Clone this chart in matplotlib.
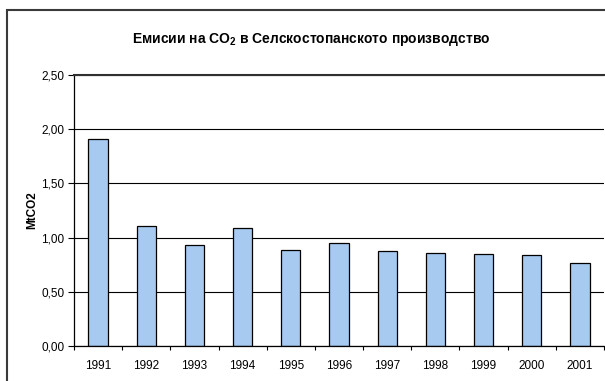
import numpy as np
import matplotlib.pyplot as plt
from matplotlib.patches import Rectangle

plt.rcParams['font.family'] = ['Liberation Sans', 'DejaVu Sans']
plt.rcParams['mathtext.fontset'] = 'custom'
plt.rcParams['mathtext.bf'] = 'Liberation Sans:bold'
plt.rcParams['mathtext.rm'] = 'Liberation Sans'

# CO2 emissions from agriculture, MtCO2
years = ['1991', '1992', '1993', '1994', '1995', '1996', '1997', '1998', '1999', '2000', '2001']
emissions = [1.91, 1.11, 0.93, 1.09, 0.89, 0.95, 0.88, 0.86, 0.85, 0.84, 0.77]
y_ticks = [0.0, 0.5, 1.0, 1.5, 2.0, 2.5]
y_labels = ['0,00', '0,50', '1,00', '1,50', '2,00', '2,50']

fig = plt.figure(figsize=(6.05, 3.81), dpi=100)

# outer chart frame
fig.patches.append(Rectangle((7 / 605, -0.2), 1.2, 1.2 - 10 / 381,
                             transform=fig.transFigure, fill=False,
                             edgecolor='#3a3a3a', linewidth=1.5))

ax = fig.add_axes([74 / 605, 1 - 346 / 381, 530 / 605, 271 / 381])
x = np.arange(len(years))

ax.set_axisbelow(True)
ax.yaxis.grid(True, color='black', linewidth=0.8)
ax.bar(x, emissions, width=0.4, color='#A6CAF0', edgecolor='black', linewidth=0.9)

ax.set_xlim(-0.5, len(years) - 0.5)
ax.set_ylim(0, 2.5)
ax.set_yticks(y_ticks)
ax.set_yticklabels(y_labels, fontsize=8.5)
ax.set_xticks(x)
ax.set_xticklabels(years, fontsize=8.5)
ax.set_xticks(np.arange(len(years) + 1) - 0.5, minor=True)
ax.tick_params(axis='x', which='major', length=0, pad=10)
ax.tick_params(axis='x', which='minor', length=3, width=0.8, direction='out')
ax.tick_params(axis='y', length=4, width=0.8, direction='out', pad=3)

ax.spines['right'].set_visible(False)
ax.spines['top'].set_linewidth(1.5)
ax.spines['top'].set_color('#303030')
ax.spines['left'].set_linewidth(0.9)
ax.spines['bottom'].set_linewidth(0.9)

ax.set_ylabel('MtCO2', fontsize=8.5, fontweight='bold', labelpad=2)

fig.text(311 / 605, 1 - 40 / 381,
         r'Емисии на CO$_\mathbf{2}$ в Селскостопанското производство',
         ha='center', va='center', fontsize=10, fontweight='bold')

fig.savefig('out.png', dpi=100)
